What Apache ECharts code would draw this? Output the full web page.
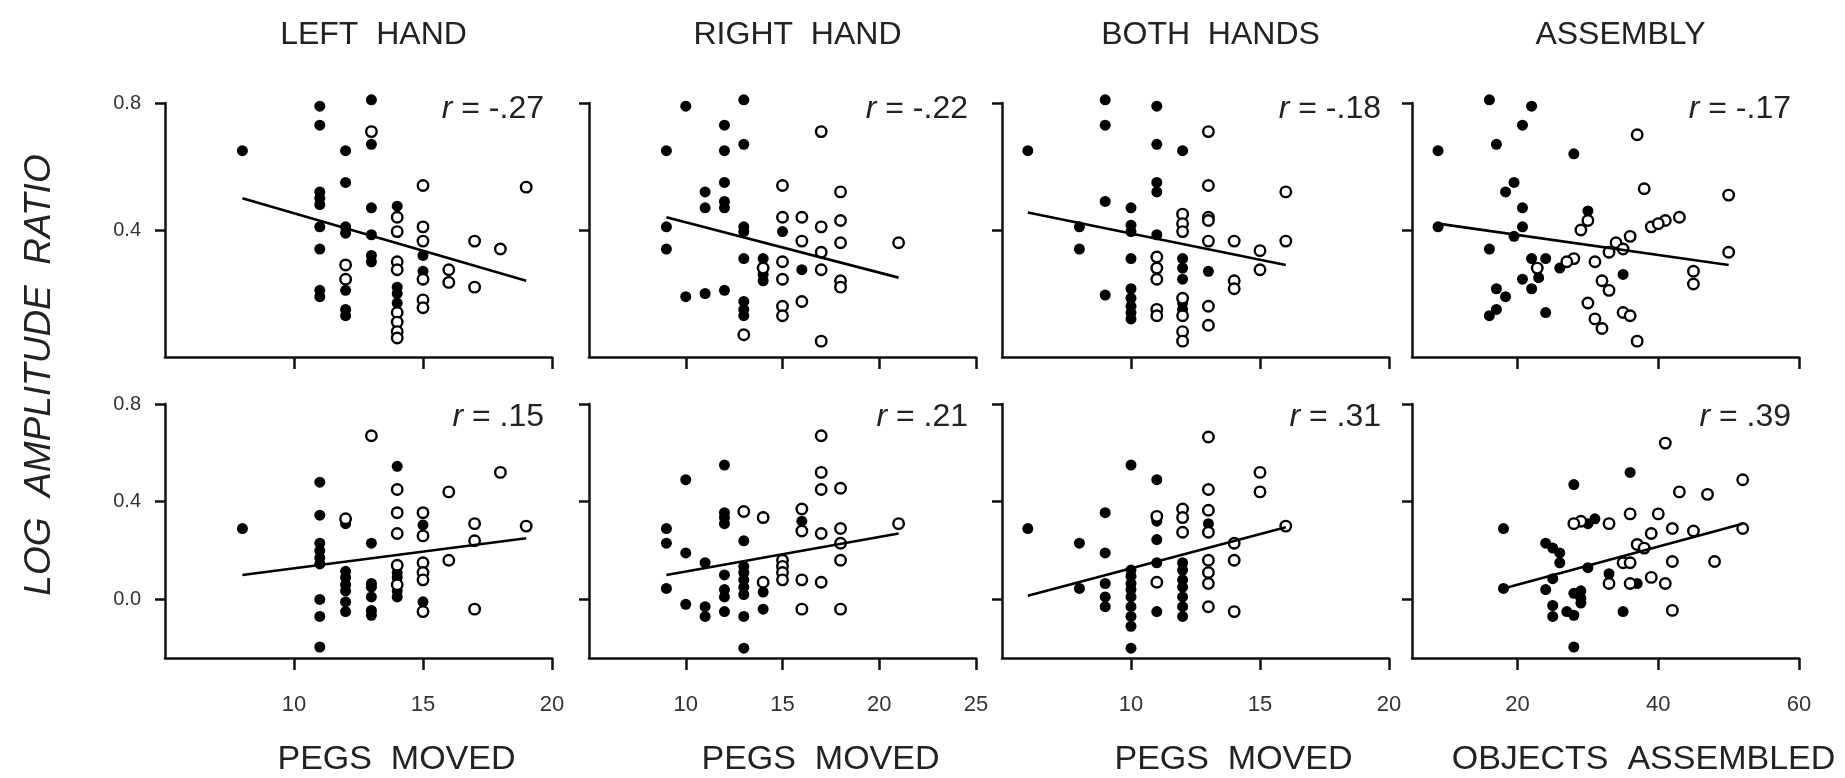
<!DOCTYPE html>
<html><head><meta charset="utf-8">
<script src="https://cdn.jsdelivr.net/npm/echarts@6/dist/echarts.min.js"></script>
<style>html,body{margin:0;padding:0;background:#fff}#c{width:1845px;height:778px}</style>
</head><body><div id="c"></div><script>
// ---- labels / ticks ----
const titles = ['LEFT  HAND', 'RIGHT  HAND', 'BOTH  HANDS', 'ASSEMBLY'];
const xNames = ['PEGS  MOVED', 'PEGS  MOVED', 'PEGS  MOVED', 'OBJECTS  ASSEMBLED'];
const yName = 'LOG  AMPLITUDE  RATIO';
const xRanges = [[5, 20], [5, 25], [5, 20], [5, 60]];
const xTickValues = [[10, 15, 20], [10, 15, 20, 25], [10, 15, 20], [20, 40, 60]];
const yRanges = [[0, 0.8], [-0.24, 0.8]];
const yTickValues = [[0.4, 0.8], [0, 0.4, 0.8]];
const rTop = ['-.27', '-.22', '-.18', '-.17'];
const rBottom = ['.15', '.21', '.31', '.39'];

// ---- data: top row ----
const leftTopFilled = [[8,0.65],[11,0.79],[11,0.73],[11,0.52],[11,0.50],[11,0.48],[11,0.41],[11,0.34],[11,0.21],[11,0.19],[12,0.65],[12,0.55],[12,0.41],[12,0.39],[12,0.21],[12,0.15],[12,0.13],[13,0.81],[13,0.67],[13,0.47],[13,0.385],[13,0.32],[13,0.30],[14,0.475],[14,0.22],[14,0.20],[14,0.17],[15,0.32],[15,0.27]];
const leftTopOpen = [[12,0.29],[12,0.245],[13,0.71],[14,0.44],[14,0.395],[14,0.30],[14,0.275],[14,0.14],[14,0.11],[14,0.08],[14,0.06],[15,0.54],[15,0.41],[15,0.365],[15,0.245],[15,0.18],[15,0.155],[16,0.275],[16,0.235],[17,0.365],[17,0.22],[18,0.34],[19,0.535]];
const leftTopFit = [[8,0.50],[19,0.24]];

const rightTopFilled = [[10,0.79],[13,0.81],[12,0.73],[9,0.65],[12,0.65],[13,0.67],[12,0.55],[11,0.52],[11,0.47],[12,0.49],[12,0.47],[9,0.41],[9,0.34],[13,0.41],[13,0.395],[15,0.395],[13,0.31],[14,0.31],[14,0.26],[14,0.24],[16,0.275],[10,0.19],[11,0.20],[12,0.21],[13,0.175],[13,0.15],[13,0.13]];
const rightTopOpen = [[17,0.71],[15,0.54],[15,0.44],[16,0.44],[17,0.41],[16,0.365],[17,0.33],[14,0.28],[15,0.30],[15,0.245],[17,0.275],[15,0.16],[15,0.13],[16,0.175],[18,0.52],[18,0.43],[18,0.36],[18,0.24],[18,0.22],[21,0.36],[13,0.07],[17,0.05]];
const rightTopFit = [[9,0.44],[21,0.25]];

const bothTopFilled = [[6,0.65],[9,0.81],[9,0.73],[11,0.79],[11,0.67],[12,0.65],[11,0.55],[11,0.52],[9,0.49],[10,0.47],[8,0.41],[8,0.34],[10,0.415],[10,0.395],[11,0.385],[10,0.31],[12,0.31],[12,0.28],[12,0.245],[9,0.195],[10,0.215],[10,0.185],[10,0.16],[13,0.27],[10,0.14],[10,0.12],[12,0.17],[12,0.15]];
const bothTopOpen = [[12,0.45],[12,0.42],[12,0.395],[11,0.315],[11,0.28],[11,0.245],[12,0.185],[13,0.71],[13,0.54],[16,0.52],[13,0.44],[13,0.43],[13,0.365],[14,0.365],[16,0.365],[15,0.335],[15,0.275],[14,0.24],[14,0.215],[13,0.16],[12,0.13],[12,0.08],[12,0.05],[13,0.10],[11,0.15],[11,0.13]];
const bothTopFit = [[6,0.455],[16,0.29]];

const assemblyTopFilled = [[8.7,0.65],[8.7,0.41],[16,0.81],[22,0.79],[20.7,0.73],[17,0.67],[19.5,0.55],[18.3,0.52],[20.7,0.47],[20.7,0.41],[19.5,0.38],[16,0.34],[22,0.31],[20.7,0.245],[22,0.215],[17,0.215],[18.3,0.19],[28,0.64],[30,0.46],[24,0.31],[26,0.28],[35,0.26],[17,0.15],[16,0.13],[24,0.14],[23,0.25]];
const assemblyTopOpen = [[22.8,0.28],[37,0.70],[38,0.53],[50,0.51],[41,0.43],[43,0.44],[39,0.41],[40,0.42],[30,0.43],[29,0.40],[34,0.36],[35,0.34],[33,0.33],[31,0.30],[28,0.31],[36,0.38],[45,0.27],[45,0.23],[50,0.33],[32,0.24],[33,0.21],[30,0.17],[31,0.12],[32,0.09],[35,0.14],[36,0.13],[37,0.05],[27,0.30]];
const assemblyTopFit = [[8.7,0.42],[50,0.29]];

// ---- data: bottom row ----
const leftBottomFilled = [[8,0.29],[11,0.48],[11,0.345],[11,0.23],[11,0.20],[11,0.17],[11,0.145],[11,0.0],[11,-0.07],[11,-0.195],[12,0.31],[12,0.115],[12,0.09],[12,0.06],[12,0.035],[12,-0.01],[12,-0.05],[13,0.23],[13,0.065],[13,0.05],[13,0.01],[13,-0.045],[13,-0.065],[14,0.545],[14,0.11],[14,0.09],[14,0.035],[14,0.01],[15,0.305],[15,-0.01]];
const leftBottomOpen = [[12,0.33],[13,0.67],[14,0.45],[14,0.355],[14,0.27],[14,0.14],[14,0.06],[15,0.355],[15,0.26],[15,0.15],[15,0.11],[15,0.08],[15,-0.05],[16,0.44],[16,0.16],[17,0.31],[17,0.24],[17,-0.04],[18,0.52],[19,0.30]];
const leftBottomFit = [[8,0.10],[19,0.25]];

const rightBottomFilled = [[10,0.49],[12,0.55],[9,0.29],[9,0.23],[10,0.19],[11,0.15],[12,0.355],[12,0.335],[12,0.31],[13,0.24],[16,0.32],[9,0.045],[12,0.10],[12,0.04],[12,0.01],[13,0.135],[13,0.11],[13,0.08],[13,0.05],[13,0.02],[14,0.03],[11,-0.03],[11,-0.07],[12,-0.05],[13,-0.07],[13,-0.2],[14,-0.04],[10,-0.02]];
const rightBottomOpen = [[13,0.36],[14,0.335],[16,0.37],[16,0.28],[17,0.67],[17,0.52],[17,0.45],[17,0.27],[15,0.16],[15,0.135],[15,0.11],[15,0.08],[16,0.08],[17,0.07],[14,0.07],[18,0.455],[18,0.29],[18,0.23],[18,0.16],[21,0.31],[16,-0.04],[18,-0.04]];
const rightBottomFit = [[9,0.10],[21,0.27]];

const bothBottomFilled = [[6,0.29],[8,0.23],[9,0.355],[9,0.19],[10,0.55],[11,0.49],[11,0.32],[11,0.245],[11,0.15],[8,0.045],[9,0.065],[9,0.01],[10,0.12],[10,0.095],[10,0.065],[10,0.04],[10,0.01],[12,0.15],[12,0.12],[12,0.08],[12,0.05],[12,0.01],[13,0.31],[9,-0.03],[10,-0.03],[10,-0.07],[10,-0.11],[10,-0.2],[11,-0.05],[12,-0.03],[12,-0.07]];
const bothBottomOpen = [[11,0.34],[11,0.07],[12,0.37],[12,0.335],[12,0.275],[13,0.665],[13,0.45],[13,0.365],[13,0.275],[13,0.16],[13,0.11],[13,0.065],[14,0.23],[14,0.16],[15,0.52],[15,0.44],[16,0.30],[14,-0.05],[13,-0.03]];
const bothBottomFit = [[6,0.015],[16,0.295]];

const assemblyBottomFilled = [[18,0.29],[18,0.045],[24,0.04],[25,0.085],[24,0.23],[25,0.21],[26,0.19],[26,0.15],[25,-0.025],[25,-0.07],[27,-0.05],[28,-0.065],[28,0.025],[29,0.005],[29,0.035],[29,-0.015],[28,-0.195],[30,0.13],[33,0.105],[35,-0.05],[37,0.065],[28,0.47],[36,0.52],[31,0.33],[30,0.31]];
const assemblyBottomOpen = [[33,0.065],[35,0.15],[36,0.15],[36,0.065],[39,0.09],[41,0.065],[42,0.155],[42,-0.045],[48,0.155],[37,0.225],[41,0.64],[52,0.49],[47,0.43],[43,0.44],[36,0.35],[40,0.35],[42,0.29],[45,0.28],[52,0.29],[38,0.21],[29,0.32],[28,0.31],[33,0.31],[39,0.27]];
const assemblyBottomFit = [[18,0.045],[52,0.31]];

const filledSets = [leftTopFilled, rightTopFilled, bothTopFilled, assemblyTopFilled, leftBottomFilled, rightBottomFilled, bothBottomFilled, assemblyBottomFilled];
const openSets = [leftTopOpen, rightTopOpen, bothTopOpen, assemblyTopOpen, leftBottomOpen, rightBottomOpen, bothBottomOpen, assemblyBottomOpen];
const fitSets = [leftTopFit, rightTopFit, bothTopFit, assemblyTopFit, leftBottomFit, rightBottomFit, bothBottomFit, assemblyBottomFit];

// ---- layout ----
const FONT = '"Liberation Sans", Arial, Helvetica, sans-serif';
const colLeft = [165, 589, 1002, 1412], colW = 387;
const rowTop = [103, 404], rowH = 254;
const INK = '#111';

const grid = [], xAxis = [], yAxis = [], series = [], graphic = [];
for (let r = 0; r < 2; r++) {
  for (let c = 0; c < 4; c++) {
    const idx = r * 4 + c;
    grid.push({ left: colLeft[c], top: rowTop[r], width: colW, height: rowH });
    xAxis.push({
      type: 'value', gridIndex: idx, min: xRanges[c][0], max: xRanges[c][1],
      axisLine: { show: true, onZero: false, lineStyle: { color: INK, width: 2.5 } },
      axisTick: { show: true, length: 12, customValues: xTickValues[c], lineStyle: { color: INK, width: 2.5 } },
      axisLabel: { show: r === 1, customValues: xTickValues[c], margin: 36, fontSize: 22, color: '#333', fontFamily: FONT },
      splitLine: { show: false }
    });
    yAxis.push({
      type: 'value', gridIndex: idx, min: yRanges[r][0], max: yRanges[r][1],
      axisLine: { show: true, onZero: false, lineStyle: { color: INK, width: 2.5 } },
      axisTick: { show: true, length: 10, customValues: yTickValues[r], lineStyle: { color: INK, width: 2.5 } },
      axisLabel: { show: c === 0, customValues: yTickValues[r], formatter: v => Number(v).toFixed(1), margin: 24, fontSize: 20, color: '#333', fontFamily: FONT },
      splitLine: { show: false }
    });
    series.push({
      type: 'scatter', xAxisIndex: idx, yAxisIndex: idx, data: filledSets[idx], clip: false,
      symbol: 'circle', symbolSize: 11, itemStyle: { color: '#000', opacity: 1 }, z: 3
    });
    series.push({
      type: 'scatter', xAxisIndex: idx, yAxisIndex: idx, data: openSets[idx], clip: false,
      symbol: 'circle', symbolSize: 10.5, itemStyle: { color: '#fff', borderColor: '#000', borderWidth: 2.4, opacity: 1 }, z: 4
    });
    series.push({
      type: 'line', xAxisIndex: idx, yAxisIndex: idx, data: fitSets[idx], symbol: 'none',
      lineStyle: { color: '#000', width: 2.6 }, z: 5, silent: true
    });
    const rv = r === 0 ? rTop[c] : rBottom[c];
    graphic.push({
      type: 'text', x: colLeft[c] + colW - 8, y: rowTop[r] + (r === 0 ? 6 : 13), z: 10,
      style: {
        text: '{i|r} = ' + rv, textAlign: 'right', textVerticalAlign: 'middle',
        fontSize: 32, fontFamily: FONT, fill: '#222',
        rich: { i: { fontStyle: 'italic', fontSize: 32, fontFamily: FONT, fill: '#222' } }
      }
    });
  }
}
for (let c = 0; c < 4; c++) {
  graphic.push({ type: 'text', x: colLeft[c] + colW / 2 + 15, y: 35,
    style: { text: titles[c], textAlign: 'center', textVerticalAlign: 'middle', fontSize: 32, fontFamily: FONT, fill: '#222' } });
  graphic.push({ type: 'text', x: colLeft[c] + colW / 2 + 38, y: 760,
    style: { text: xNames[c], textAlign: 'center', textVerticalAlign: 'middle', fontSize: 34, fontFamily: FONT, fill: '#222' } });
}
graphic.push({ type: 'text', x: 40, y: 375, rotation: Math.PI / 2,
  style: { text: yName, textAlign: 'center', textVerticalAlign: 'middle', fontSize: 37, fontStyle: 'italic', fontFamily: FONT, fill: '#222' } });

const chart = echarts.init(document.getElementById('c'));
chart.setOption({ animation: false, backgroundColor: '#fff', grid, xAxis, yAxis, series, graphic });
</script></body></html>
